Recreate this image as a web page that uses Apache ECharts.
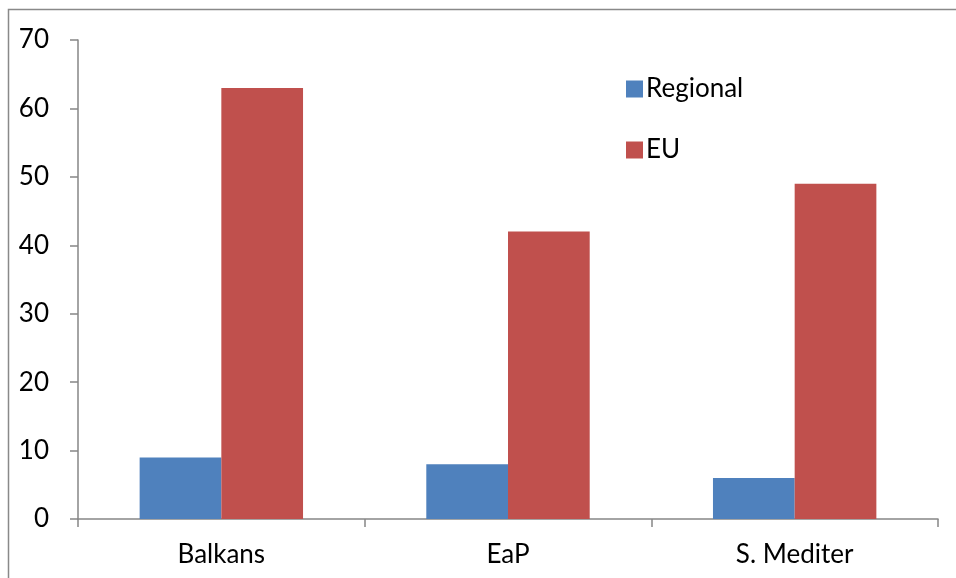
<!DOCTYPE html>
<html>
<head>
<meta charset="utf-8">
<script src="https://cdn.jsdelivr.net/npm/echarts@6/dist/echarts.min.js"></script>
<style>
html,body{margin:0;padding:0;background:#fff;}
#c{width:956px;height:578px;}
</style>
</head>
<body>
<div id="c"></div>
<script>
var categories = ['Balkans', 'EaP', 'S. Mediter'];
var regional = [9, 8, 6];
var eu = [63, 42, 49];
var yTicks = { min: 0, max: 70, interval: 10 };

var font = 'Lato, "Open Sans", sans-serif';
var axisColor = '#868686';
var chart = echarts.init(document.getElementById('c'), null, { renderer: 'canvas' });
chart.setOption({
  animation: false,
  backgroundColor: '#fff',
  graphic: [{
    type: 'rect',
    shape: { x: 8.5, y: 9.5, width: 1000, height: 1000 },
    style: { fill: 'none', stroke: '#898989', lineWidth: 1.5 },
    silent: true
  }],
  grid: { left: 78, right: 18, top: 40, bottom: 59, containLabel: false },
  legend: {
    orient: 'vertical',
    left: 621,
    top: 71,
    itemWidth: 17,
    itemHeight: 17,
    itemGap: 35,
    icon: 'rect',
    textStyle: { fontFamily: font, fontSize: 26, color: '#000', padding: [0, 0, 0, -2] },
    data: ['Regional', 'EU']
  },
  xAxis: {
    type: 'category',
    data: categories,
    axisLine: { lineStyle: { color: axisColor, width: 1.5 } },
    axisTick: { show: true, length: 8, inside: false, alignWithLabel: false, lineStyle: { color: axisColor, width: 1.5 } },
    axisLabel: { fontFamily: font, fontSize: 26, color: '#000', margin: 23 },
    splitLine: { show: false }
  },
  yAxis: {
    type: 'value',
    min: yTicks.min,
    max: yTicks.max,
    interval: yTicks.interval,
    axisLine: { show: true, lineStyle: { color: axisColor, width: 1.5 } },
    axisTick: { show: true, length: 8, lineStyle: { color: axisColor, width: 1.5 } },
    axisLabel: { fontFamily: font, fontSize: 26, color: '#000', margin: 29 },
    splitLine: { show: false }
  },
  series: [
    {
      name: 'Regional', type: 'bar', data: regional,
      itemStyle: { color: '#4F81BD' },
      barGap: '0%', barCategoryGap: '43%'
    },
    {
      name: 'EU', type: 'bar', data: eu,
      itemStyle: { color: '#C0504D' },
      barGap: '0%', barCategoryGap: '43%'
    }
  ]
});
</script>
</body>
</html>
